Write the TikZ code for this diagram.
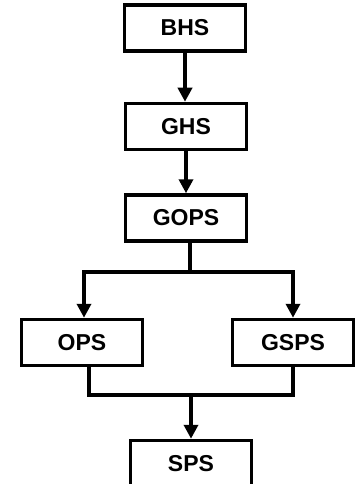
\documentclass[tikz,border=0pt]{standalone}
\usepackage{fontspec}
\setmainfont{Liberation Sans}
\usetikzlibrary{arrows.meta,positioning}

\begin{document}
\begin{tikzpicture}[
    x=1pt, y=1pt,
    box/.style={rectangle, draw, line width=3.5pt, align=center, minimum width=121pt, minimum height=46pt, font=\bfseries\fontsize{23}{26}\selectfont},
    arrow/.style={-{Triangle[length=14pt,width=14pt]}, line width=3.5pt},
    line/.style={line width=3.5pt}
]
\useasboundingbox (0,0) rectangle (356,-484);
\node[box] (bhs) at (185,-28) {BHS};
\node[box, below=49pt of bhs, xshift=1pt] (ghs) {GHS};
\node[box, below=42pt of ghs] (gops) {GOPS};
\node[box, below=75pt of gops, xshift=-104pt] (ops) {OPS};
\node[box, below=75pt of gops, xshift=107pt] (gsps) {GSPS};
\node[box, below=196pt of gops, xshift=5pt] (sps) {SPS};
\coordinate[below=29pt of gops.south, xshift=4pt] (split);
\coordinate[above=44pt of sps.north] (join);
\draw[arrow] (bhs) -- (bhs.south |- ghs.north);
\draw[arrow] (ghs) -- (gops);
\draw[line] (gops.south -| split) -- (split);
\draw[arrow] (split) -| ([xshift=2pt]ops.north);
\draw[arrow] (split) -| (gsps.north);
\draw[line] ([xshift=7pt]ops.south) |- (join) -| (gsps.south);
\draw[arrow] (join) -- (sps);
\end{tikzpicture}
\end{document}
